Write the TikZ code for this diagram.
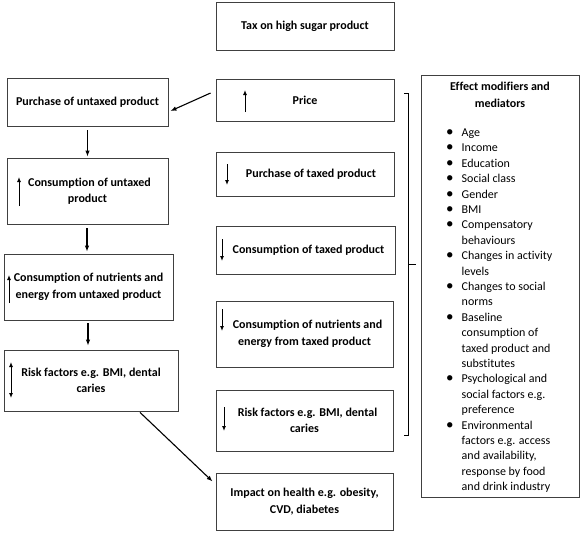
\documentclass[tikz,border=0pt]{standalone}
\usepackage{fontspec}
\setmainfont{Carlito}[Ligatures=NoCommon]
\usetikzlibrary{arrows.meta}
\begin{document}
\begin{tikzpicture}[x=1pt,y=-1pt,
  box/.style={draw=black!75, line width=0.8pt, align=center, inner sep=0pt,
    font=\bfseries\fontsize{12}{16.5}\selectfont},
  arr/.style={line width=1.1pt, -{Latex[length=6pt,width=4.5pt]}},
  small/.style={line width=1pt, -{Latex[length=5pt,width=4pt]}},
  bullets/.style={align=left, inner sep=0pt, font=\fontsize{12}{15.4}\selectfont}]
\useasboundingbox (0,0) rectangle (582,542);
% taxed column
\node[box, minimum width=178pt, minimum height=48pt] (tax) at (305,26) {Tax on high sugar product};
\node[box, minimum width=178pt, minimum height=42pt] (price) at (305,100) {Price};
\node[box, minimum width=178pt, minimum height=44pt] (ptax) at (305,174) {\hspace*{12pt}Purchase of taxed product};
\node[box, minimum width=179pt, minimum height=48pt] (ctax) at (305.5,250) {\hspace*{6pt}Consumption of taxed product};
\node[box, minimum width=177pt, minimum height=66pt] (ntax) at (304.5,334) {\hspace*{6pt}Consumption of nutrients and\\energy from taxed product};
\node[box, minimum width=177pt, minimum height=61pt] (rtax) at (304.5,420.5) {\hspace*{6pt}Risk factors e.g. BMI, dental\\caries};
\node[box, minimum width=177pt, minimum height=57pt] (impact) at (304.5,501.5) {Impact on health e.g. obesity,\\CVD, diabetes};
% untaxed column
\node[box, minimum width=161pt, minimum height=48pt] (puntax) at (87.5,102) {Purchase of untaxed product};
\node[box, minimum width=161pt, minimum height=66pt] (cuntax) at (87.5,191) {\hspace*{4pt}Consumption of untaxed\\product};
\node[box, minimum width=169pt, minimum height=66pt] (nuntax) at (88.5,287) {Consumption of nutrients and\\energy from untaxed product};
\node[box, minimum width=174pt, minimum height=61pt] (runtax) at (91,380.5) {Risk factors e.g. BMI, dental\\caries};
% effect modifiers box
\node[draw=black!75, line width=0.8pt, minimum width=158pt, minimum height=422pt, inner sep=0pt] (effects) at (500,286) {};
\node[align=center, inner sep=0pt, font=\bfseries\fontsize{12}{17}\selectfont, anchor=north] (etitle) at (500,81.5) {Effect modifiers and\\mediators};
\newcommand{\bl}{\makebox[15pt][l]{\hspace*{-0.6pt}{\fontsize{15}{15}\selectfont\textbullet}}}
\newcommand{\ind}{\hspace*{15pt}}
\node[bullets, anchor=north west] (list) at (446.5,128.5) {%
\bl Age\\
\bl Income\\
\bl Education\\
\bl Social class\\
\bl Gender\\
\bl BMI\\
\bl Compensatory\\
\ind behaviours\\
\bl Changes in activity\\
\ind levels\\
\bl Changes to social\\
\ind norms\\
\bl Baseline\\
\ind consumption of\\
\ind taxed product and\\
\ind substitutes\\
\bl Psychological and\\
\ind social factors e.g.\\
\ind preference\\
\bl Environmental\\
\ind factors e.g. access\\
\ind and availability,\\
\ind response by food\\
\ind and drink industry};
% small in-box arrows
\draw[small] (245,112) -- (245,90);
\draw[small] (227,164) -- (227,185);
\draw[small] (222,239) -- (222,261);
\draw[small] (222,309) -- (222,331);
\draw[small] (224,407) -- (224,431);
\draw[small] (19,206) -- (19,177);
\draw[small] (9,303) -- (9,275);
\draw[line width=1pt, {Latex[length=5pt,width=4pt]}-{Latex[length=5pt,width=4pt]}] (11,362) -- (11,398);
% bracket
\draw[line width=1pt] (404,93) -- (408,93) -- (408,435) -- (404,435);
\draw[line width=1pt] (408,264) -- (416,264);
% connectors
\draw[arr] ([xshift=-5pt,yshift=7pt]price.west) -- ([xshift=2pt,yshift=-9pt]puntax.east);
\draw[arr] ([yshift=-4pt]puntax.south) -- ([yshift=1pt]cuntax.north);
\draw[arr] ([yshift=-4pt,xshift=-0.5pt]cuntax.south) -- ([yshift=2pt,xshift=-1.5pt]nuntax.north);
\draw[arr] ([yshift=-3pt,xshift=-0.5pt]nuntax.south) -- ([yshift=4pt,xshift=-3pt]runtax.north);
\draw[arr] ([xshift=49pt,yshift=-1pt]runtax.south) -- ([xshift=-3pt,yshift=20pt]impact.west);
\end{tikzpicture}
\end{document}
